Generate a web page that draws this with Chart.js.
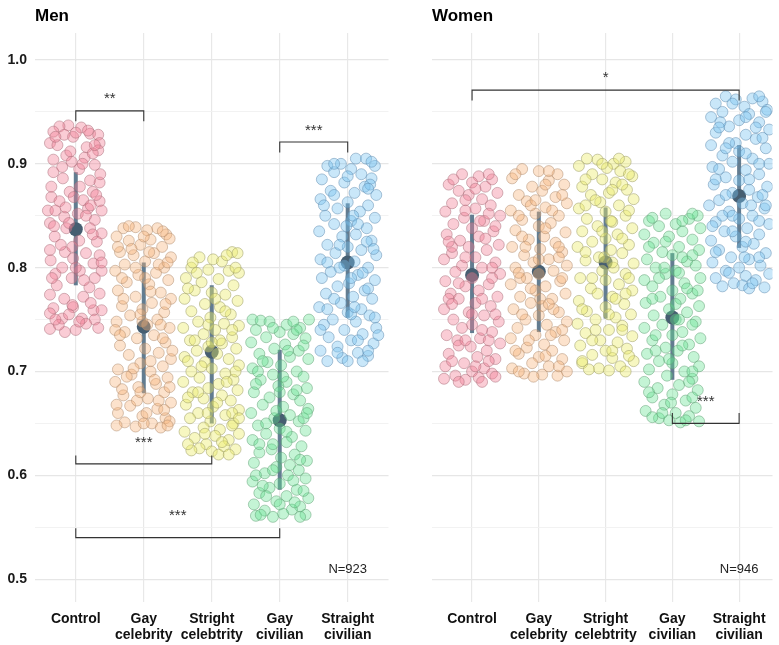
<!DOCTYPE html>
<html><head><meta charset="utf-8">
<script src="https://cdn.jsdelivr.net/npm/chart.js@4"></script>
<style>
body{margin:0;background:#fff;}
#wrap{position:relative;width:779px;height:645px;overflow:hidden;}
canvas{position:absolute;top:0;}
</style>
</head><body>
<div id="wrap">
<canvas id="men" width="395" height="645" style="left:0px"></canvas>
<canvas id="women" width="384" height="645" style="left:395px"></canvas>
</div>
<script>
const categories = [["Control"],["Gay","celebrity"],["Stright","celebtrity"],["Gay","civilian"],["Straight","civilian"]];
const yTickValues = [0.5,0.55,0.6,0.65,0.7,0.75,0.8,0.85,0.9,0.95,1.0];
const yTickLabels = {"0.5":"0.5","0.6":"0.6","0.7":"0.7","0.8":"0.8","0.9":"0.9","1":"1.0"};
const panelTitles = ["Men","Women"];
const sampleLabels = ["N=923","N=946"];

// summary: means and interval ends per category
const menMeans = [0.837,0.743,0.719,0.653,0.805];
const menLow   = [0.783,0.679,0.650,0.586,0.752];
const menHigh  = [0.892,0.805,0.783,0.721,0.862];
const womenMeans = [0.793,0.796,0.805,0.752,0.869];
const womenLow   = [0.737,0.738,0.751,0.692,0.819];
const womenHigh  = [0.851,0.854,0.858,0.814,0.918];

// brackets: [from, to, lineValue, tipValue, label, labelValue]
const menBrackets = [[0,1,0.951,0.941,"**",0.965],[3,4,0.921,0.911,"***",0.935],[0,2,0.611,0.619,"***",0.634],[0,3,0.540,0.549,"***",0.564]];
const womenBrackets = [[0,4,0.971,0.961,"*",0.986],[3,4,0.650,0.660,"***",0.674]];

// jittered observations: [jitter offset, value]
const menControl = [[-0.11,0.937],[-0.24,0.936],[0.08,0.935],[-0.33,0.931],[-0.38,0.920],[-0.17,0.928],[-0.04,0.926],[0.21,0.929],[0.33,0.928],[0.35,0.920],[0.33,0.913],[0.16,0.916],[-0.14,0.908],[-0.33,0.904],[-0.06,0.902],[0.13,0.906],[0.28,0.899],[-0.33,0.892],[-0.19,0.886],[0.21,0.884],[0.35,0.882],[0.06,0.878],[-0.36,0.868],[-0.09,0.873],[0.25,0.873],[-0.24,0.864],[0.11,0.865],[0.35,0.864],[-0.41,0.855],[-0.30,0.855],[0.18,0.857],[0.38,0.855],[-0.17,0.849],[0.03,0.852],[0.28,0.846],[-0.38,0.843],[-0.14,0.838],[0.21,0.838],[0.38,0.833],[-0.31,0.830],[0.31,0.825],[-0.38,0.817],[-0.16,0.815],[0.15,0.814],[-0.04,0.809],[-0.37,0.807],[0.26,0.804],[-0.30,0.794],[0.06,0.797],[0.38,0.797],[-0.06,0.790],[0.28,0.790],[-0.38,0.774],[-0.17,0.770],[0.11,0.772],[0.35,0.775],[-0.33,0.761],[-0.04,0.762],[0.26,0.759],[0.38,0.759],[-0.38,0.756],[-0.20,0.751],[0.09,0.751],[0.28,0.750],[-0.38,0.741],[-0.16,0.738],[0.00,0.740],[0.15,0.746],[0.00,0.930],[-0.27,0.918],[0.25,0.910],[0.05,0.895],[-0.20,0.897],[0.36,0.890],[-0.03,0.868],[0.22,0.860],[-0.10,0.843],[0.05,0.826],[-0.22,0.822],[0.35,0.812],[0.00,0.800],[-0.28,0.783],[0.20,0.781],[-0.05,0.764],[0.33,0.742],[-0.25,0.745],[0.18,0.932],[-0.30,0.926],[0.28,0.918],[-0.08,0.912],[0.10,0.900],[-0.36,0.878],[0.30,0.870],[-0.15,0.858],[0.15,0.850],[-0.32,0.840],[0.25,0.832],[-0.05,0.820],[0.38,0.805],[-0.20,0.800],[0.12,0.788],[-0.35,0.790],[0.22,0.766],[-0.10,0.755],[0.05,0.748],[-0.30,0.750]];
const menGayCeleb = [[-0.30,0.838],[-0.12,0.839],[0.05,0.836],[0.20,0.838],[0.33,0.832],[-0.40,0.830],[0.38,0.828],[-0.22,0.826],[0.10,0.827],[-0.05,0.822],[0.27,0.820],[-0.35,0.815],[0.15,0.814],[-0.15,0.812],[0.40,0.810],[0.02,0.806],[-0.28,0.803],[0.30,0.800],[-0.42,0.797],[0.18,0.795],[-0.08,0.793],[0.36,0.788],[-0.25,0.786],[0.08,0.784],[-0.38,0.778],[0.25,0.776],[-0.12,0.772],[0.40,0.770],[0.12,0.766],[-0.32,0.763],[-0.02,0.760],[0.30,0.757],[-0.20,0.754],[0.20,0.750],[-0.40,0.748],[0.05,0.745],[0.38,0.742],[-0.28,0.738],[0.15,0.735],[-0.10,0.732],[0.32,0.728],[-0.35,0.725],[0.02,0.722],[0.22,0.718],[-0.22,0.716],[0.40,0.712],[-0.05,0.708],[0.28,0.705],[-0.38,0.702],[0.10,0.700],[-0.18,0.697],[0.35,0.694],[-0.42,0.690],[0.18,0.688],[-0.08,0.685],[0.30,0.680],[-0.30,0.677],[0.06,0.674],[0.40,0.670],[-0.20,0.667],[0.20,0.664],[-0.38,0.660],[-0.02,0.657],[0.32,0.655],[-0.28,0.651],[0.12,0.650],[-0.12,0.647],[0.25,0.646],[-0.40,0.648],[0.38,0.652],[0.00,0.830],[-0.18,0.818],[0.22,0.803],[-0.32,0.790],[0.10,0.777],[-0.02,0.748],[0.28,0.732],[-0.15,0.703],[0.16,0.692],[-0.32,0.683],[0.04,0.660],[0.30,0.663],[-0.10,0.672],[0.42,0.720],[-0.42,0.740],[-0.22,0.840],[0.28,0.835],[-0.38,0.820],[0.08,0.815],[0.35,0.805],[-0.12,0.800],[0.02,0.790],[-0.30,0.770],[0.32,0.765],[-0.05,0.755],[0.25,0.745],[-0.35,0.735],[0.10,0.710],[-0.25,0.695],[0.38,0.685],[-0.05,0.680],[0.22,0.672],[-0.40,0.668],[0.00,0.650],[0.35,0.648]];
const menStraightCeleb = [[0.30,0.815],[0.38,0.814],[-0.18,0.810],[0.02,0.808],[0.15,0.806],[-0.30,0.800],[-0.05,0.798],[0.25,0.797],[0.40,0.795],[-0.38,0.790],[0.10,0.789],[-0.15,0.786],[0.32,0.783],[-0.25,0.778],[0.00,0.776],[0.20,0.774],[-0.40,0.770],[0.38,0.768],[-0.10,0.765],[0.12,0.762],[-0.30,0.758],[0.28,0.755],[-0.02,0.752],[-0.20,0.748],[0.18,0.746],[0.40,0.744],[-0.42,0.742],[0.05,0.740],[-0.12,0.736],[0.30,0.733],[-0.32,0.730],[0.15,0.727],[-0.05,0.724],[0.36,0.722],[-0.22,0.720],[0.08,0.717],[-0.40,0.714],[0.25,0.712],[-0.10,0.709],[0.40,0.706],[0.00,0.703],[-0.30,0.700],[0.20,0.698],[-0.18,0.694],[0.32,0.692],[-0.42,0.690],[0.10,0.688],[-0.05,0.684],[0.38,0.682],[-0.28,0.680],[0.15,0.677],[-0.12,0.674],[0.28,0.672],[-0.38,0.668],[0.02,0.666],[0.40,0.663],[-0.20,0.660],[0.20,0.658],[-0.32,0.655],[-0.02,0.652],[0.32,0.650],[-0.12,0.646],[0.12,0.644],[-0.40,0.642],[0.40,0.640],[0.05,0.638],[-0.25,0.636],[0.25,0.634],[-0.08,0.630],[0.18,0.628],[-0.18,0.626],[0.35,0.625],[0.00,0.623],[-0.30,0.624],[0.10,0.620],[0.30,0.648],[-0.35,0.710],[0.12,0.730],[0.05,0.770],[-0.28,0.805],[0.22,0.690],[-0.06,0.660],[0.22,0.812],[-0.22,0.795],[0.35,0.800],[-0.35,0.780],[0.20,0.758],[-0.05,0.745],[0.30,0.740],[-0.25,0.730],[0.00,0.728],[-0.15,0.705],[0.35,0.700],[-0.35,0.675],[0.08,0.670],[0.30,0.660],[-0.10,0.640],[0.15,0.632],[-0.35,0.630],[0.40,0.655],[-0.20,0.680],[0.25,0.620]];
const menGayCivilian = [[-0.40,0.750],[-0.28,0.749],[-0.15,0.748],[0.43,0.750],[0.10,0.745],[0.30,0.742],[-0.35,0.740],[0.00,0.738],[0.20,0.736],[-0.20,0.733],[0.38,0.732],[-0.42,0.728],[0.08,0.726],[-0.08,0.722],[0.28,0.720],[-0.30,0.717],[0.15,0.714],[0.42,0.712],[-0.18,0.709],[0.02,0.706],[-0.40,0.703],[0.25,0.700],[-0.10,0.697],[0.35,0.695],[-0.28,0.692],[0.10,0.690],[-0.02,0.686],[0.40,0.684],[-0.38,0.680],[0.20,0.678],[-0.15,0.675],[0.30,0.672],[-0.25,0.668],[0.05,0.666],[0.42,0.664],[-0.42,0.660],[0.15,0.658],[-0.08,0.655],[0.28,0.652],[-0.32,0.648],[0.00,0.645],[0.38,0.643],[-0.20,0.640],[0.18,0.637],[-0.40,0.634],[0.10,0.632],[0.32,0.628],[-0.12,0.625],[-0.30,0.622],[0.22,0.620],[0.02,0.617],[0.40,0.614],[-0.38,0.612],[-0.05,0.608],[0.28,0.605],[-0.22,0.602],[0.12,0.600],[0.38,0.597],[-0.40,0.594],[0.00,0.592],[-0.15,0.588],[0.25,0.586],[-0.30,0.583],[0.10,0.580],[0.42,0.578],[-0.05,0.575],[-0.38,0.572],[0.30,0.570],[0.18,0.567],[-0.22,0.566],[0.05,0.563],[0.38,0.562],[-0.35,0.561],[-0.10,0.560],[0.22,0.574],[-0.25,0.590],[0.15,0.610],[-0.10,0.630],[0.35,0.655],[-0.32,0.700],[0.12,0.720],[0.25,0.740],[-0.05,0.662],[0.00,0.680],[0.20,0.748],[-0.10,0.742],[0.35,0.725],[-0.25,0.710],[0.05,0.695],[-0.35,0.688],[0.25,0.682],[0.40,0.660],[-0.20,0.650],[0.10,0.642],[-0.30,0.630],[0.30,0.615],[-0.10,0.605],[0.20,0.595],[-0.35,0.600],[0.35,0.585],[0.00,0.572],[-0.20,0.580],[0.30,0.560],[-0.28,0.562]];
const menStraightCivilian = [[-0.10,0.900],[0.12,0.905],[0.27,0.905],[-0.30,0.898],[0.40,0.898],[0.05,0.895],[-0.20,0.892],[0.20,0.890],[0.35,0.886],[-0.38,0.885],[-0.05,0.882],[0.25,0.878],[-0.25,0.874],[0.10,0.872],[0.42,0.870],[-0.40,0.866],[0.00,0.863],[0.30,0.860],[-0.15,0.857],[0.18,0.854],[-0.33,0.850],[0.40,0.848],[0.05,0.845],[-0.20,0.842],[0.28,0.838],[-0.42,0.835],[0.12,0.832],[-0.08,0.830],[0.35,0.826],[-0.30,0.822],[0.00,0.820],[0.20,0.817],[-0.18,0.814],[0.42,0.812],[-0.40,0.808],[0.10,0.806],[-0.05,0.802],[0.30,0.800],[-0.25,0.796],[0.15,0.793],[-0.38,0.790],[0.40,0.788],[0.02,0.785],[-0.15,0.782],[0.25,0.778],[-0.32,0.775],[0.08,0.772],[0.36,0.770],[-0.10,0.766],[-0.42,0.762],[0.20,0.760],[0.00,0.757],[0.32,0.754],[-0.22,0.750],[0.12,0.748],[-0.35,0.745],[0.42,0.742],[-0.05,0.740],[0.22,0.736],[-0.28,0.733],[0.05,0.730],[0.38,0.727],[-0.15,0.724],[-0.40,0.720],[0.15,0.718],[0.30,0.715],[-0.08,0.713],[0.00,0.710],[0.45,0.735],[-0.20,0.870],[0.28,0.825],[-0.12,0.800],[0.08,0.850],[-0.30,0.760],[0.22,0.795],[0.05,0.755],[-0.02,0.840],[0.33,0.880],[0.35,0.902],[-0.20,0.900],[0.00,0.888],[0.30,0.876],[-0.35,0.860],[0.15,0.842],[-0.12,0.822],[0.38,0.818],[-0.30,0.805],[0.05,0.790],[0.30,0.780],[-0.20,0.770],[0.10,0.762],[0.40,0.752],[-0.40,0.740],[0.15,0.730],[-0.15,0.718],[0.30,0.720],[-0.30,0.710],[0.22,0.710]];
const womenControl = [[-0.15,0.890],[0.10,0.888],[0.30,0.885],[0.00,0.882],[-0.35,0.880],[0.20,0.878],[-0.20,0.874],[0.38,0.872],[-0.05,0.870],[0.15,0.866],[-0.30,0.862],[0.28,0.860],[0.05,0.857],[-0.40,0.854],[0.42,0.850],[-0.12,0.848],[0.18,0.845],[-0.28,0.842],[0.00,0.838],[0.32,0.835],[-0.38,0.832],[0.10,0.830],[-0.18,0.826],[0.40,0.822],[-0.05,0.820],[0.22,0.817],[-0.30,0.814],[0.05,0.810],[-0.42,0.808],[0.35,0.805],[-0.15,0.802],[0.15,0.800],[-0.25,0.796],[0.42,0.794],[0.00,0.790],[-0.40,0.787],[0.25,0.784],[-0.10,0.782],[0.10,0.778],[-0.32,0.775],[0.38,0.772],[-0.20,0.770],[0.05,0.766],[0.28,0.763],[-0.42,0.760],[-0.05,0.757],[0.18,0.754],[-0.28,0.750],[0.40,0.748],[0.00,0.745],[-0.15,0.742],[0.30,0.738],[-0.38,0.735],[0.12,0.732],[-0.22,0.730],[0.42,0.727],[-0.02,0.724],[0.22,0.720],[-0.35,0.717],[0.08,0.714],[0.35,0.712],[-0.12,0.708],[-0.40,0.705],[0.18,0.703],[0.00,0.700],[0.30,0.698],[-0.25,0.696],[0.10,0.694],[-0.10,0.692],[-0.42,0.693],[0.25,0.710],[-0.20,0.725],[0.00,0.755],[0.30,0.790],[-0.30,0.820],[0.12,0.845],[-0.10,0.865],[0.35,0.840],[-0.35,0.770],[0.15,0.740],[0.25,0.890],[-0.28,0.885],[0.05,0.876],[-0.10,0.855],[0.25,0.852],[-0.35,0.825],[0.20,0.828],[-0.10,0.810],[0.30,0.800],[-0.20,0.785],[0.15,0.770],[-0.30,0.765],[0.35,0.755],[-0.10,0.730],[0.25,0.730],[-0.30,0.710],[0.05,0.705],[0.35,0.695],[-0.20,0.690],[0.15,0.690]];
const womenGayCeleb = [[-0.25,0.895],[0.00,0.893],[0.28,0.890],[-0.40,0.886],[0.15,0.884],[0.38,0.880],[-0.10,0.878],[0.05,0.874],[-0.30,0.870],[0.25,0.868],[-0.18,0.864],[0.42,0.862],[0.10,0.858],[-0.42,0.855],[-0.05,0.852],[0.30,0.850],[-0.25,0.846],[0.18,0.843],[0.00,0.840],[-0.35,0.836],[0.40,0.834],[0.08,0.830],[-0.15,0.827],[0.25,0.824],[-0.40,0.820],[0.02,0.818],[0.35,0.815],[-0.22,0.812],[0.15,0.808],[-0.08,0.805],[0.42,0.802],[-0.35,0.800],[0.22,0.797],[0.00,0.794],[-0.18,0.790],[0.32,0.787],[-0.42,0.784],[0.10,0.782],[-0.05,0.778],[0.40,0.775],[-0.28,0.772],[0.20,0.770],[-0.12,0.766],[0.05,0.763],[-0.38,0.760],[0.30,0.757],[0.00,0.754],[-0.20,0.750],[0.42,0.748],[0.12,0.745],[-0.32,0.742],[0.25,0.738],[-0.05,0.735],[-0.42,0.732],[0.38,0.730],[0.08,0.726],[-0.18,0.723],[0.20,0.720],[-0.30,0.717],[0.00,0.714],[0.35,0.712],[-0.10,0.708],[0.15,0.705],[-0.40,0.703],[0.42,0.700],[-0.22,0.698],[0.05,0.697],[0.28,0.696],[-0.08,0.695],[0.18,0.735],[-0.28,0.790],[0.30,0.810],[-0.12,0.860],[0.10,0.880],[-0.35,0.720],[0.02,0.770],[0.22,0.760],[-0.25,0.830],[0.15,0.893],[-0.35,0.890],[0.35,0.870],[-0.05,0.865],[0.20,0.855],[-0.30,0.850],[0.10,0.838],[-0.20,0.820],[0.30,0.820],[0.00,0.808],[-0.30,0.795],[0.35,0.790],[-0.12,0.780],[0.15,0.765],[-0.25,0.755],[0.35,0.740],[-0.15,0.730],[0.10,0.715],[-0.30,0.700],[0.30,0.705]];
const womenStraightCeleb = [[-0.28,0.905],[-0.12,0.904],[0.12,0.900],[0.30,0.902],[-0.40,0.898],[0.02,0.896],[0.22,0.893],[-0.20,0.890],[0.40,0.888],[-0.05,0.885],[0.15,0.882],[-0.35,0.878],[0.32,0.875],[0.05,0.872],[-0.22,0.870],[0.42,0.866],[-0.08,0.863],[0.20,0.860],[-0.40,0.857],[0.00,0.854],[0.30,0.850],[-0.28,0.847],[0.10,0.844],[-0.12,0.840],[0.40,0.838],[-0.35,0.835],[0.18,0.832],[0.00,0.828],[-0.20,0.825],[0.35,0.822],[-0.42,0.820],[0.08,0.817],[0.25,0.814],[-0.10,0.810],[-0.30,0.807],[0.42,0.804],[0.12,0.800],[-0.05,0.797],[0.30,0.794],[-0.38,0.790],[0.00,0.788],[0.20,0.784],[-0.22,0.780],[0.40,0.778],[-0.12,0.775],[0.10,0.772],[-0.40,0.768],[0.28,0.765],[0.00,0.762],[-0.28,0.758],[0.38,0.755],[0.15,0.752],[-0.15,0.750],[-0.42,0.746],[0.25,0.744],[0.05,0.740],[-0.30,0.737],[0.40,0.734],[-0.08,0.730],[0.18,0.728],[-0.38,0.725],[0.32,0.722],[0.00,0.720],[-0.20,0.716],[0.10,0.713],[0.42,0.710],[-0.35,0.708],[0.22,0.705],[-0.10,0.703],[0.05,0.701],[0.30,0.700],[-0.25,0.702],[0.15,0.770],[-0.30,0.860],[0.25,0.880],[-0.02,0.810],[0.35,0.790],[-0.15,0.740],[0.08,0.845],[0.20,0.905],[-0.05,0.900],[0.35,0.890],[-0.30,0.885],[0.10,0.875],[-0.15,0.865],[0.35,0.855],[-0.05,0.835],[0.25,0.828],[-0.30,0.815],[0.10,0.805],[-0.20,0.790],[0.30,0.775],[-0.35,0.760],[0.05,0.755],[0.25,0.740],[-0.20,0.730],[0.10,0.720],[-0.35,0.710],[0.35,0.715]];
const womenGayCivilian = [[-0.10,0.852],[0.38,0.850],[0.25,0.847],[-0.35,0.845],[0.05,0.842],[-0.20,0.840],[0.42,0.838],[0.15,0.835],[-0.42,0.832],[-0.05,0.830],[0.30,0.827],[-0.28,0.824],[0.10,0.820],[0.40,0.817],[-0.15,0.815],[0.00,0.812],[-0.38,0.808],[0.22,0.806],[0.35,0.802],[-0.25,0.800],[0.05,0.797],[-0.10,0.794],[0.42,0.790],[-0.42,0.788],[0.18,0.785],[-0.30,0.782],[0.00,0.778],[0.30,0.775],[-0.18,0.772],[0.12,0.770],[-0.40,0.766],[0.40,0.763],[-0.05,0.760],[0.22,0.757],[-0.28,0.754],[0.05,0.750],[0.35,0.748],[-0.15,0.745],[-0.42,0.742],[0.15,0.738],[0.00,0.735],[0.42,0.732],[-0.30,0.730],[0.25,0.726],[-0.10,0.723],[0.08,0.720],[-0.38,0.717],[0.32,0.714],[-0.20,0.710],[0.00,0.708],[0.40,0.705],[-0.35,0.702],[0.18,0.700],[-0.08,0.696],[0.30,0.693],[-0.42,0.690],[0.10,0.687],[-0.22,0.684],[0.38,0.682],[0.00,0.678],[-0.30,0.675],[0.20,0.672],[-0.12,0.668],[0.35,0.665],[-0.40,0.662],[0.05,0.660],[0.25,0.657],[-0.20,0.655],[-0.05,0.653],[0.40,0.652],[0.12,0.651],[-0.30,0.656],[0.22,0.780],[-0.12,0.800],[0.30,0.700],[-0.25,0.720],[0.10,0.750],[-0.02,0.670],[0.15,0.810],[0.30,0.852],[-0.30,0.848],[0.15,0.845],[-0.10,0.825],[0.30,0.812],[-0.35,0.820],[0.10,0.795],[-0.20,0.790],[0.38,0.778],[-0.30,0.770],[0.05,0.765],[0.30,0.745],[-0.25,0.735],[0.15,0.725],[-0.05,0.712],[0.25,0.690],[-0.35,0.680],[0.30,0.675],[-0.15,0.660],[0.20,0.653]];
const womenStraightCivilian = [[-0.20,0.965],[0.20,0.963],[-0.05,0.962],[0.35,0.960],[-0.35,0.958],[0.08,0.955],[0.42,0.952],[-0.25,0.950],[0.15,0.948],[-0.42,0.945],[0.00,0.942],[0.30,0.940],[-0.15,0.936],[0.45,0.933],[-0.35,0.930],[0.10,0.928],[0.25,0.924],[-0.05,0.920],[-0.42,0.918],[0.40,0.915],[0.00,0.912],[-0.25,0.908],[0.20,0.905],[-0.10,0.902],[0.45,0.900],[-0.40,0.897],[0.10,0.894],[0.30,0.890],[-0.20,0.887],[0.00,0.884],[-0.38,0.880],[0.42,0.878],[0.15,0.875],[-0.10,0.872],[0.28,0.868],[-0.30,0.865],[0.05,0.862],[-0.45,0.860],[0.38,0.857],[-0.15,0.854],[0.20,0.850],[0.00,0.847],[-0.35,0.844],[0.45,0.842],[0.12,0.838],[-0.22,0.835],[0.30,0.832],[-0.05,0.830],[-0.42,0.826],[0.22,0.823],[0.05,0.820],[-0.30,0.817],[0.40,0.814],[-0.12,0.810],[0.15,0.808],[-0.40,0.805],[0.32,0.802],[0.00,0.800],[-0.20,0.797],[0.45,0.794],[0.10,0.792],[-0.35,0.790],[0.25,0.788],[-0.08,0.785],[0.05,0.783],[-0.25,0.782],[0.38,0.781],[0.15,0.780],[-0.15,0.920],[0.25,0.935],[-0.30,0.895],[0.35,0.870],[-0.10,0.850],[0.18,0.860],[-0.40,0.840],[0.08,0.810],[0.40,0.950],[-0.28,0.940],[0.30,0.965],[-0.10,0.958],[0.10,0.945],[-0.30,0.935],[0.35,0.925],[-0.20,0.915],[0.10,0.910],[0.30,0.900],[-0.35,0.885],[0.15,0.885],[-0.20,0.870],[0.40,0.860],[-0.25,0.850],[0.30,0.845],[-0.10,0.835],[0.10,0.825],[-0.35,0.815],[0.30,0.810],[-0.15,0.795],[0.20,0.785]];

const menGroups = [menControl,menGayCeleb,menStraightCeleb,menGayCivilian,menStraightCivilian];
const womenGroups = [womenControl,womenGayCeleb,womenStraightCeleb,womenGayCivilian,womenStraightCivilian];

const fills = ['rgba(242,128,150,0.40)','rgba(248,178,120,0.38)','rgba(236,236,108,0.42)','rgba(100,226,144,0.38)','rgba(120,195,240,0.40)'];
const borders = ['rgba(170,110,122,0.5)','rgba(175,140,110,0.5)','rgba(160,160,105,0.55)','rgba(95,160,115,0.5)','rgba(95,140,175,0.5)'];
const FONT = "'Liberation Sans', Arial, Helvetica, sans-serif";

function panelPlugin(cfg){
  return {
    id:'panel'+cfg.title,
    beforeDatasetsDraw(chart){
      const {ctx, scales:{x,y}} = chart;
      ctx.save();
      cfg.means.forEach((m,i)=>{
        const px = x.getPixelForValue(i);
        ctx.strokeStyle = 'rgba(86,114,136,0.92)';
        ctx.lineWidth = 4;
        ctx.beginPath();
        ctx.moveTo(px, y.getPixelForValue(cfg.high[i]));
        ctx.lineTo(px, y.getPixelForValue(cfg.low[i]));
        ctx.stroke();
        ctx.fillStyle = '#465e71';
        ctx.beginPath();
        ctx.arc(px, y.getPixelForValue(m), 7, 0, Math.PI*2);
        ctx.fill();
      });
      ctx.restore();
    },
    afterDatasetsDraw(chart){
      const {ctx, scales:{x,y}, chartArea} = chart;
      ctx.save();
      ctx.strokeStyle = '#333';
      ctx.lineWidth = 1.1;
      cfg.brackets.forEach(b=>{
        const x1 = x.getPixelForValue(b[0]), x2 = x.getPixelForValue(b[1]);
        const yl = y.getPixelForValue(b[2]), yt = y.getPixelForValue(b[3]);
        ctx.beginPath();
        ctx.moveTo(x1, yt); ctx.lineTo(x1, yl); ctx.lineTo(x2, yl); ctx.lineTo(x2, yt);
        ctx.stroke();
        ctx.fillStyle = '#333';
        ctx.font = '15px ' + FONT;
        ctx.textAlign = 'center';
        ctx.textBaseline = 'middle';
        ctx.fillText(b[4], x.getPixelForValue((b[0]+b[1])/2), y.getPixelForValue(b[5]) + 3);
      });
      ctx.fillStyle = '#222';
      ctx.font = '13px ' + FONT;
      ctx.textAlign = 'center';
      ctx.textBaseline = 'middle';
      ctx.fillText(cfg.nLabel, x.getPixelForValue(4), y.getPixelForValue(0.5096));
      ctx.fillStyle = '#000';
      ctx.font = 'bold 17px ' + FONT;
      ctx.textAlign = 'left';
      ctx.textBaseline = 'alphabetic';
      ctx.fillText(cfg.title, chartArea.left, 21);
      ctx.restore();
    }
  };
}

function makeChart(id, cfg){
  const datasets = cfg.groups.map((g,i)=>({
    data: g.map(p=>({x: i + p[0], y: p[1]})),
    backgroundColor: fills[i], borderColor: borders[i], borderWidth: 1,
    pointRadius: 5.5, pointHoverRadius: 5.5
  }));
  return new Chart(document.getElementById(id), {
    type: 'scatter',
    data: {datasets},
    plugins: [panelPlugin(cfg)],
    options: {
      responsive: false, animation: false, devicePixelRatio: 1,
      layout: {padding: {top: 33, right: cfg.padRight, left: 0, bottom: 0}},
      plugins: {legend: {display: false}, tooltip: {enabled: false}},
      scales: {
        x: {
          type: 'linear', min: -0.6, max: cfg.xMax,
          afterBuildTicks: s => { s.ticks = categories.map((c,i)=>({value: i})); },
          ticks: {callback: v => categories[v], font: {family: FONT, size: 14, weight: 'bold', lineHeight: 1.15},
                  color: '#111', padding: 9, maxRotation: 0, autoSkip: false},
          grid: {color: '#e8e8e8', lineWidth: 1.2, drawTicks: false},
          border: {display: false},
          afterFit: s => { s.height = 43; }
        },
        y: {
          min: 0.478, max: 1.026,
          afterBuildTicks: s => { s.ticks = yTickValues.map(v=>({value: v})); },
          ticks: {display: cfg.showY, callback: v => yTickLabels[String(+v.toFixed(2))] || '',
                  font: {family: FONT, size: 14, weight: 'bold'}, color: '#1a1a1a', padding: 8},
          grid: {color: c => (yTickLabels[String(+c.tick.value.toFixed(2))] ? '#e6e6e6' : '#f0f0f0'),
                 lineWidth: c => (yTickLabels[String(+c.tick.value.toFixed(2))] ? 1.2 : 0.9), drawTicks: false},
          border: {display: false},
          afterFit: s => { s.width = cfg.yWidth; }
        }
      }
    }
  });
}

makeChart('men', {title: panelTitles[0], nLabel: sampleLabels[0], groups: menGroups, means: menMeans, low: menLow, high: menHigh,
  brackets: menBrackets, xMax: 4.6, padRight: 6, yWidth: 35, showY: true});
makeChart('women', {title: panelTitles[1], nLabel: sampleLabels[1], groups: womenGroups, means: womenMeans, low: womenLow, high: womenHigh,
  brackets: womenBrackets, xMax: 4.5, padRight: 0, yWidth: 37, showY: false});
</script>
</body></html>
